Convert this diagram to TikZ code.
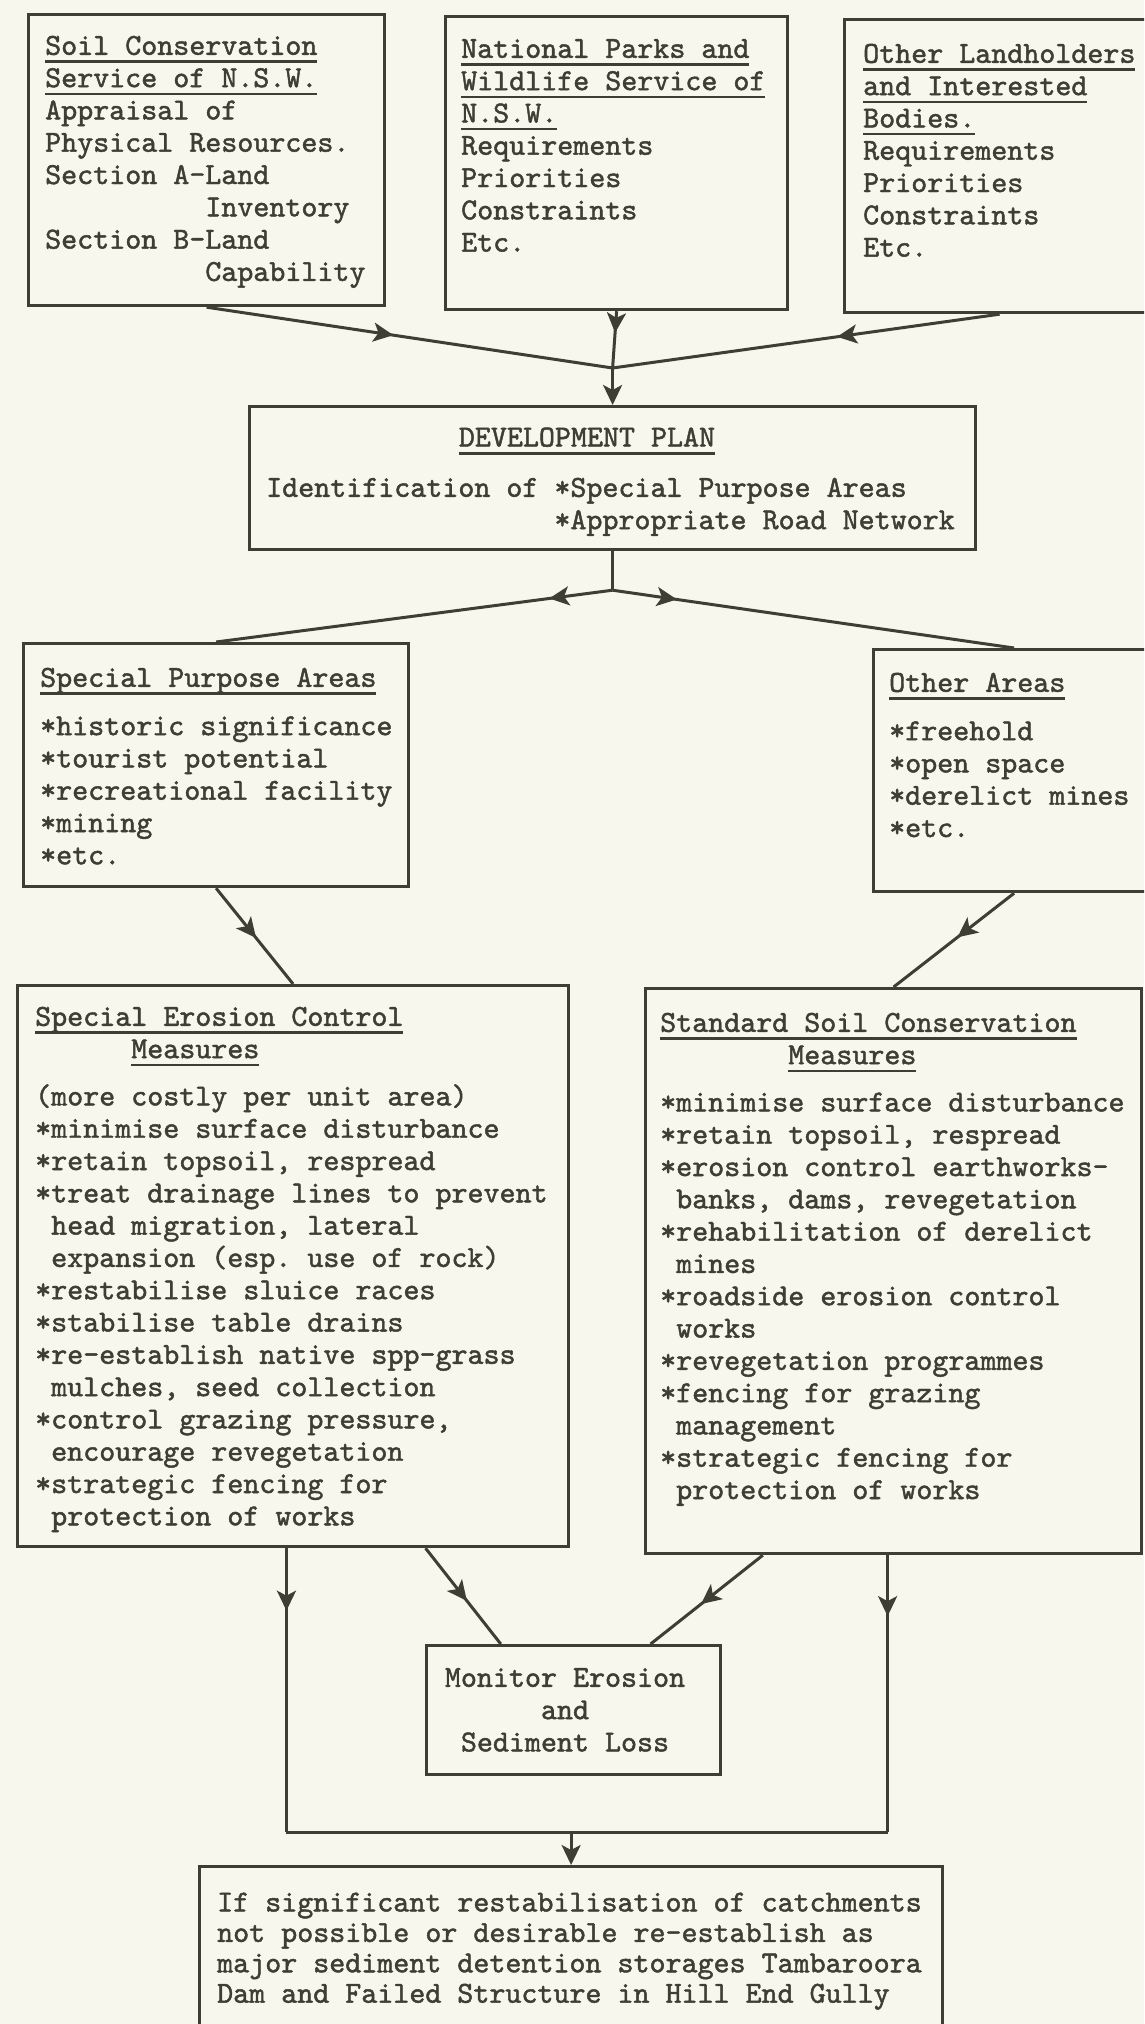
\documentclass[tikz,border=0pt]{standalone}
\usetikzlibrary{arrows.meta,decorations.markings,calc}
\definecolor{ink}{RGB}{62,62,52}
\definecolor{paper}{RGB}{248,247,238}
\newlength\tcw \setlength\tcw{16.0125pt}
\newcommand\ind[1]{\hspace*{#1\tcw}}
\font\twfont="[lmmono10-regular.otf]:embolden=1.5" at 30.5pt
\newsavebox\ulbox
\newcommand\myul[1]{\sbox\ulbox{#1}\rlap{\rule[-8pt]{\wd\ulbox}{2.4pt}}\usebox\ulbox}
\tikzset{
  box/.style={draw=ink, line width=3.2pt, rectangle, inner sep=0pt, anchor=north west},
  txt/.style={text=ink, inner sep=0pt, anchor=north west, align=left,
    font=\fontsize{30.5}{32.3}\selectfont\twfont\frenchspacing},
  conn/.style={color=ink, line width=3pt},
  midarrow/.style={postaction={decorate}, decoration={markings,
    mark=at position #1 with {\arrow{Stealth[length=20pt,width=19pt,inset=5pt]}}}},
  endarrow/.style={-{Stealth[length=20pt,width=19pt,inset=5pt]}}
}
\begin{document}
\begin{tikzpicture}[x=1pt,y=-1pt]
\useasboundingbox (0,0) rectangle (1144,2024);
\fill[paper] (0,0) rectangle (1144,2024);
\clip (0,0) rectangle (1144,2024);

% boxes
\node[box, minimum width=356pt, minimum height=291pt] (b1) at (27,13) {};
\node[box, minimum width=342pt, minimum height=293pt] (b2) at (444,15) {};
\node[box, minimum width=310pt, minimum height=293pt] (b3) at (843,18) {};
\node[box, minimum width=726pt, minimum height=143pt] (dp) at (248,405) {};
\node[box, minimum width=385pt, minimum height=243pt] (spa) at (22,642) {};
\node[box, minimum width=281pt, minimum height=242pt] (oa) at (872,648) {};
\node[box, minimum width=551pt, minimum height=561pt] (secm) at (16,984) {};
\node[box, minimum width=496pt, minimum height=565pt] (sscm) at (644,987) {};
\node[box, minimum width=294pt, minimum height=129pt] (mon) at (425,1644) {};
\node[box, minimum width=743pt, minimum height=185pt] (fin) at (198,1865) {};

% texts
\node[txt] (t1) at (45,32) {\strut\myul{Soil Conservation}\\\myul{Service of N.S.W.}\\Appraisal of\\Physical Resources.\\Section A-Land\\\ind{10}Inventory\\Section B-Land\\\ind{10}Capability};
\node[txt] (t2) at (461,35) {\strut\myul{National Parks and}\\\myul{Wildlife Service of}\\\myul{N.S.W.}\\Requirements\\Priorities\\Constraints\\Etc.};
\node[txt] (t3) at (863,40) {\strut\myul{Other Landholders}\\\myul{and Interested}\\\myul{Bodies.}\\Requirements\\Priorities\\Constraints\\Etc.};
\node[txt, anchor=base] (dph) at (587,446.5) {\myul{DEVELOPMENT PLAN}};
\node[txt] (dpb) at (266,474) {\strut Identification of *Special Purpose Areas\\\ind{18}*Appropriate Road Network};
\node[txt] (spat) at (40,664) {\strut\myul{Special Purpose Areas}\\[16pt]{}*historic significance\\{}*tourist potential\\{}*recreational facility\\{}*mining\\{}*etc.};
\node[txt] (oat) at (889,669) {\strut\myul{Other Areas}\\[16pt]{}*freehold\\{}*open space\\{}*derelict mines\\{}*etc.};
\node[txt] (secmt) at (35,1003) {\strut\myul{Special Erosion Control}\\\ind{6}\myul{Measures}\\[15pt](more costly per unit area)\\{}*minimise surface disturbance\\{}*retain topsoil, respread\\{}*treat drainage lines to prevent\\\ind{1}head migration, lateral\\\ind{1}expansion (esp. use of rock)\\{}*restabilise sluice races\\{}*stabilise table drains\\{}*re-establish native spp-grass\\\ind{1}mulches, seed collection\\{}*control grazing pressure,\\\ind{1}encourage revegetation\\{}*strategic fencing for\\\ind{1}protection of works};
\node[txt] (sscmt) at (660,1009) {\strut\myul{Standard Soil Conservation}\\\ind{8}\myul{Measures}\\[15pt]{}*minimise surface disturbance\\{}*retain topsoil, respread\\{}*erosion control earthworks-\\\ind{1}banks, dams, revegetation\\{}*rehabilitation of derelict\\\ind{1}mines\\{}*roadside erosion control\\\ind{1}works\\{}*revegetation programmes\\{}*fencing for grazing\\\ind{1}management\\{}*strategic fencing for\\\ind{1}protection of works};
\node[txt, anchor=north, align=center] (mont) at (565,1664) {\strut Monitor Erosion\\and\\Sediment Loss};
\node[txt, font=\fontsize{30.5}{30.4}\selectfont\twfont\frenchspacing] (fint) at (217,1890) {\strut If significant restabilisation of catchments\\not possible or desirable re-establish as\\major sediment detention storages Tambaroora\\Dam and Failed Structure in Hill End Gully};

% connectors top
\coordinate (j1) at ($(dp.north)+(0,-37)$);
\draw[conn, midarrow=0.46] (b1.south) -- (j1);
\draw[conn, midarrow=0.38] (b2.south) -- (j1);
\draw[conn, midarrow=0.42] (b3.south) -- (j1);
\draw[conn, endarrow] (j1) -- (dp.north);

\coordinate (j2) at ($(dp.south)+(0,39)$);
\draw[conn] (dp.south) -- (j2);
\draw[conn, midarrow=0.16] (j2) -- (spa.north);
\draw[conn, midarrow=0.16] (j2) -- (oa.north);

\draw[conn, midarrow=0.52] (spa.south) -- (secm.north);
\draw[conn, midarrow=0.47] (oa.south) -- (sscm.north);

% bottom
\coordinate (sl) at ($(secm.south west)!0.488!(secm.south east)$);
\coordinate (sd) at ($(secm.south west)!0.739!(secm.south east)$);
\coordinate (rd) at ($(sscm.south west)!0.238!(sscm.south east)$);
\coordinate (rr) at ($(sscm.south west)!0.488!(sscm.south east)$);
\coordinate (ml) at ($(mon.north west)!0.255!(mon.north east)$);
\coordinate (mr) at ($(mon.north west)!0.759!(mon.north east)$);
\coordinate (c1) at ($(sl)+(0,284)$);
\coordinate (c2) at (rr |- c1);
\coordinate (cm) at (fin.north |- c1);
\draw[conn, midarrow=0.22] (sl) -- (c1);
\draw[conn, midarrow=0.22] (rr) -- (c2);
\draw[conn] (c1) -- (c2);
\draw[conn, midarrow=0.55] (sd) -- (ml);
\draw[conn, midarrow=0.55] (rd) -- (mr);
\draw[conn, endarrow] (cm) -- (fin.north);
\end{tikzpicture}
\end{document}
